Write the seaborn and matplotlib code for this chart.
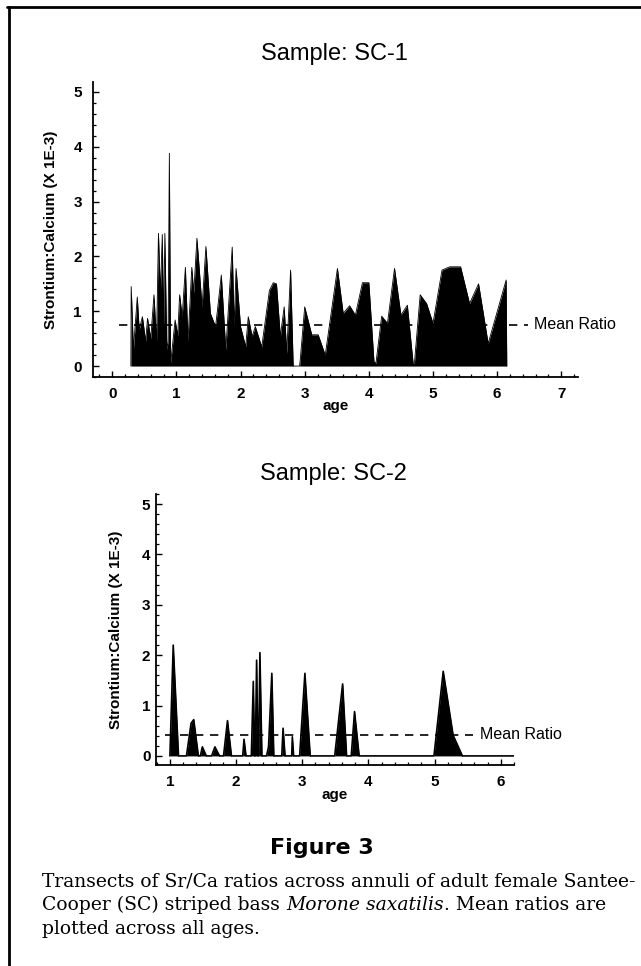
import pandas as pd
import matplotlib.pyplot as plt
import seaborn as sns
from matplotlib.lines import Line2D
from matplotlib.ticker import MultipleLocator

# ==========================================================
# Data (Sr/Ca ratio, X 1E-3)
# ==========================================================
sc1_age = [0.29, 0.295, 0.33, 0.39, 0.42, 0.47, 0.52, 0.55, 0.60, 0.65, 0.69, 0.72, 0.75, 0.78,
           0.80, 0.82, 0.85, 0.87, 0.89, 0.91, 0.98, 1.02, 1.05, 1.09, 1.14, 1.18, 1.24, 1.27,
           1.32, 1.40, 1.46, 1.53, 1.61, 1.64, 1.70, 1.77, 1.87, 1.90, 1.93, 2.00, 2.08, 2.12,
           2.18, 2.23, 2.33, 2.45, 2.51, 2.56, 2.62, 2.68, 2.72, 2.78, 2.82, 2.83, 2.92, 2.93,
           3.00, 3.11, 3.21, 3.32, 3.51, 3.60, 3.70, 3.79, 3.90, 4.00, 4.08, 4.11, 4.20, 4.29,
           4.40, 4.50, 4.60, 4.69, 4.71, 4.80, 4.90, 5.00, 5.14, 5.26, 5.43, 5.57, 5.71, 5.86,
           6.14, 6.15]
sc1_ratio = [0.0, 1.45, 0.30, 1.26, 0.66, 0.90, 0.45, 0.87, 0.50, 1.30, 0.45, 2.42, 1.33, 2.40,
             0.72, 2.42, 0.30, 0.45, 3.88, 0.05, 0.84, 0.55, 1.30, 0.90, 1.80, 0.45, 1.80, 1.33,
             2.33, 1.08, 2.18, 0.96, 0.72, 1.02, 1.66, 0.29, 2.17, 0.72, 1.78, 0.72, 0.35, 0.90,
             0.54, 0.72, 0.35, 1.38, 1.52, 1.50, 0.54, 1.08, 0.23, 1.75, 0.02, 0.0, 0.0, 0.11,
             1.08, 0.57, 0.57, 0.20, 1.78, 0.96, 1.10, 0.93, 1.52, 1.52, 0.08, 0.05, 0.91, 0.78,
             1.78, 0.93, 1.11, 0.05, 0.05, 1.30, 1.14, 0.78, 1.75, 1.81, 1.81, 1.14, 1.50, 0.41,
             1.57, 0.0]
sc1_mean = 0.75
sc1_mean_span = [0.11, 6.48]

sc2_age = [1.00, 1.05, 1.13, 1.25, 1.32, 1.36, 1.43, 1.46, 1.49, 1.55, 1.63, 1.68, 1.75, 1.81,
           1.87, 1.93, 2.10, 2.12, 2.15, 2.23, 2.26, 2.28, 2.29, 2.31, 2.33, 2.34, 2.36, 2.39,
           2.46, 2.49, 2.54, 2.57, 2.69, 2.71, 2.74, 2.84, 2.85, 2.87, 2.96, 3.04, 3.12, 3.49,
           3.61, 3.67, 3.74, 3.79, 3.86, 4.99, 5.13, 5.28, 5.42, 6.20]
sc2_ratio = [0.0, 2.20, 0.0, 0.0, 0.65, 0.72, 0.0, 0.0, 0.18, 0.0, 0.0, 0.18, 0.0, 0.0,
             0.70, 0.0, 0.0, 0.33, 0.0, 0.0, 1.48, 0.0, 0.0, 1.90, 0.0, 0.0, 2.05, 0.0,
             0.0, 0.18, 1.64, 0.0, 0.0, 0.55, 0.0, 0.0, 0.38, 0.0, 0.0, 1.64, 0.0, 0.0,
             1.43, 0.0, 0.0, 0.88, 0.0, 0.0, 1.68, 0.41, 0.0, 0.0]
sc2_mean = 0.42
sc2_mean_span = [0.92, 5.58]

y_label = "Strontium:Calcium (X 1E-3)"
caption_title = "Figure 3"
caption_lines = ["Transects of Sr/Ca ratios across annuli of adult female Santee-",
                 ["Cooper (SC) striped bass ", "Morone saxatilis", ". Mean ratios are"],
                 "plotted across all ages."]

sc1 = pd.DataFrame({"age": sc1_age, "ratio": sc1_ratio})
sc2 = pd.DataFrame({"age": sc2_age, "ratio": sc2_ratio})

sns.set_theme(style="ticks")
plt.rcParams["font.family"] = ["Liberation Sans", "DejaVu Sans"]
for key in ["text.color", "axes.labelcolor", "xtick.color", "ytick.color", "axes.edgecolor"]:
    plt.rcParams[key] = "black"

fig = plt.figure(figsize=(6.41, 9.66), dpi=100)
ax1 = fig.add_axes([0.1451, 0.6097, 0.7566, 0.3054])
ax2 = fig.add_axes([0.2434, 0.2081, 0.5585, 0.2805])

# ==========================================================
# Panels
# ==========================================================
def draw_panel(ax, df, mean, span, xlim, ylim, xticks, lw, tick_pad):
    ax.fill_between(df["age"], 0, df["ratio"], color="black", linewidth=0)
    sns.lineplot(data=df, x="age", y="ratio", ax=ax, color="black", linewidth=lw,
                 estimator=None, sort=False)
    ax.hlines(mean, span[0], span[1], colors="black", linestyles=(0, (5, 4)), linewidth=1.2)
    ax.text(span[1] + 0.1, mean, "Mean Ratio", fontsize=11.5, va="center", ha="left",
            clip_on=False)
    ax.set_xlim(*xlim)
    ax.set_ylim(*ylim)
    ax.set_xticks(xticks)
    ax.set_yticks([0, 1, 2, 3, 4, 5])
    ax.xaxis.set_minor_locator(MultipleLocator(0.2))
    ax.yaxis.set_minor_locator(MultipleLocator(0.2))
    sns.despine(ax=ax)
    for s in ["left", "bottom"]:
        ax.spines[s].set_linewidth(1.3)
        ax.spines[s].set_color("black")
    ax.tick_params(which="major", direction="in", length=4, width=1, color="black",
                   labelsize=11)
    ax.tick_params(which="minor", direction="in", length=2.2, width=0.9, color="black")
    ax.tick_params(axis="x", which="major", pad=7)
    ax.tick_params(axis="y", which="major", pad=tick_pad)
    for lab in ax.get_xticklabels() + ax.get_yticklabels():
        lab.set_fontweight("bold")
    ax.set_xlabel("age", fontsize=11, fontweight="bold")
    ax.set_ylabel(y_label, fontsize=11, fontweight="bold")

draw_panel(ax1, sc1, sc1_mean, sc1_mean_span, (-0.3, 7.26), (-0.2, 5.18),
           [0, 1, 2, 3, 4, 5, 6, 7], 0.6, 8)
draw_panel(ax2, sc2, sc2_mean, sc2_mean_span, (0.79, 6.2), (-0.18, 5.2),
           [1, 2, 3, 4, 5, 6], 1.2, 4)

ax1.xaxis.set_label_coords(0.5, -0.075)
ax1.yaxis.set_label_coords(-0.072, 0.5)
ax2.xaxis.set_label_coords(0.5, -0.085)
ax2.yaxis.set_label_coords(-0.092, 0.5)

fig.text(334 / 641, 1 - 54 / 966, "Sample: SC-1", fontsize=17, ha="center", va="center")
fig.text(333 / 641, 1 - 474 / 966, "Sample: SC-2", fontsize=17, ha="center", va="center")

# ==========================================================
# Caption and page frame
# ==========================================================
fig.text(322 / 641, 1 - 848 / 966, caption_title, fontsize=16, fontweight="bold",
         family="DejaVu Sans", ha="center", va="center")

renderer = fig.canvas.get_renderer()
x0 = 42 / 641
line_y = [881, 905, 929]
probe = fig.text(0, 0, caption_lines[0], fontsize=12, family="DejaVu Serif")
cap_size = 12 * 593 / probe.get_window_extent(renderer).width
probe.remove()
for i, line in enumerate(caption_lines):
    y = 1 - line_y[i] / 966
    parts = line if isinstance(line, list) else [line]
    x = x0
    for j, part in enumerate(parts):
        t = fig.text(x, y, part, fontsize=cap_size, family="DejaVu Serif", va="center",
                     style="italic" if j == 1 else "normal")
        x += t.get_window_extent(renderer).width / 641

fig.add_artist(Line2D([7 / 641, 1], [1 - 7 / 966, 1 - 7 / 966], color="black", linewidth=2))
fig.add_artist(Line2D([9 / 641, 9 / 641], [0, 1 - 7 / 966], color="black", linewidth=2))

fig.savefig("out.png", dpi=100)
